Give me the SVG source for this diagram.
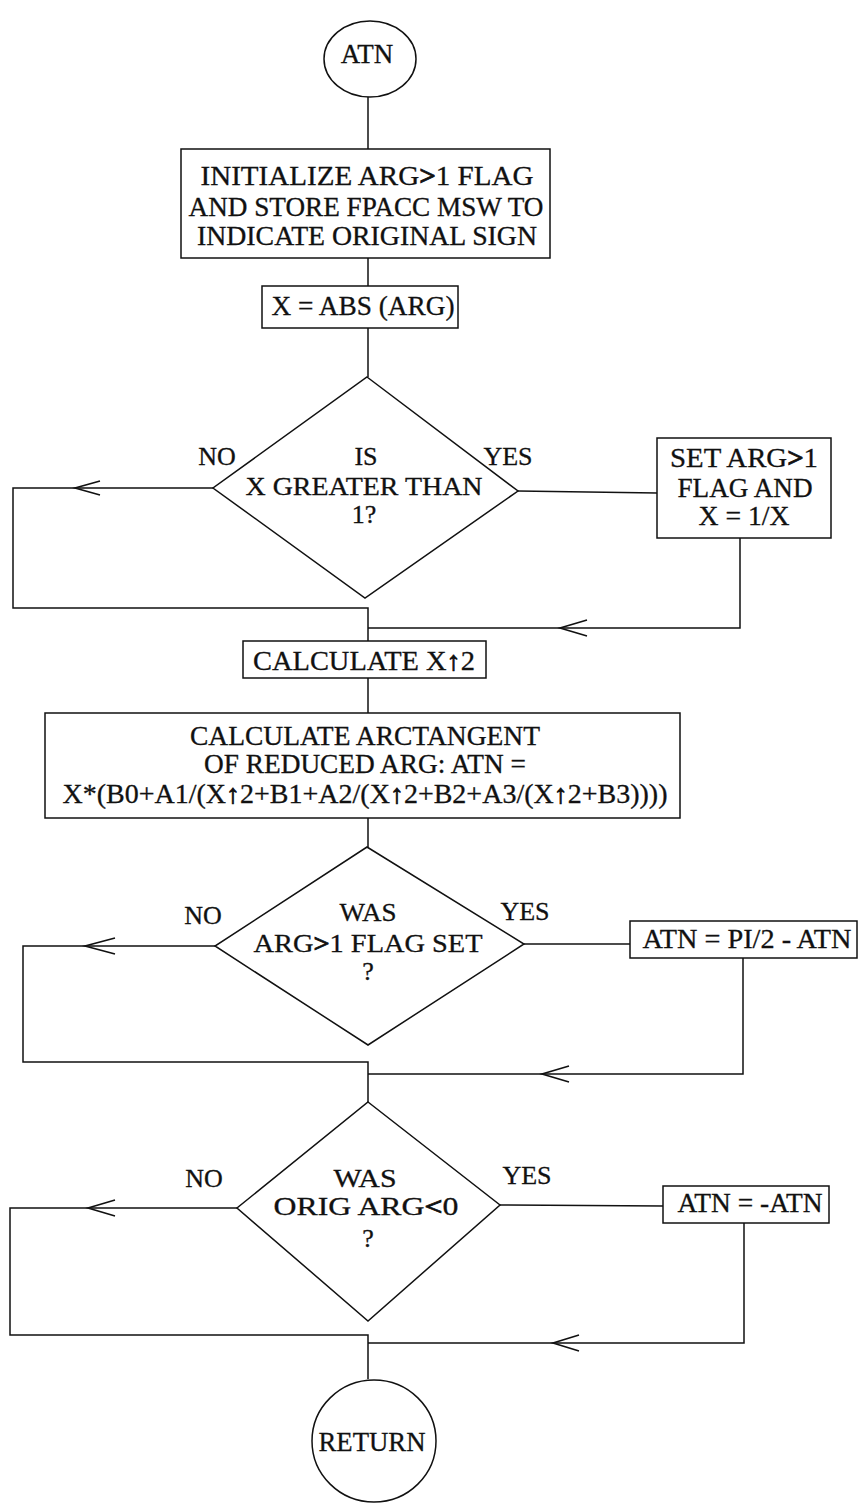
<svg xmlns="http://www.w3.org/2000/svg" width="858" height="1504" viewBox="0 0 858 1504">
<style>
  .shape { fill: #fff; stroke: #111; stroke-width: 1.5; }
  .line { fill: none; stroke: #111; stroke-width: 1.5; }
  .arrow { fill: none; stroke: #111; stroke-width: 1.6; }
  .t { font-family: "Liberation Serif", "DejaVu Serif", serif; font-size: 27px; text-anchor: middle; fill: #111; stroke: #111; stroke-width: 0.3; }
  .d { font-size: 26px; }
  .b { font-weight: bold; stroke-width: 0.8; }
</style>
<rect width="858" height="1504" fill="#fff"/>

<g id="connectors">
  <path class="line" d="M368,97 V149"/>
  <path class="line" d="M368,258 V286"/>
  <path class="line" d="M368,328 V377"/>
  <path class="line" d="M213,488 H13 V608 H368 V641"/>
  <path class="arrow" d="M100,481 L75,488 L100,495"/>
  <path class="line" d="M518,491 L657,493"/>
  <path class="line" d="M740,538 V628 H368"/>
  <path class="arrow" d="M587,620 L560,628 L587,636"/>
  <path class="line" d="M368,678 V713"/>
  <path class="line" d="M368,818 V847"/>
  <path class="line" d="M215,946 H23 V1062 H368 V1102"/>
  <path class="arrow" d="M115,938 L85,946 L115,954"/>
  <path class="line" d="M524,944 H630"/>
  <path class="line" d="M743,958 V1074 H368"/>
  <path class="arrow" d="M569,1066 L542,1074 L569,1082"/>
  <path class="line" d="M237,1208 H10 V1335 H368 V1379"/>
  <path class="arrow" d="M115,1200 L88,1208 L115,1216"/>
  <path class="line" d="M500,1205 L663,1206"/>
  <path class="line" d="M744,1223 V1343 H368"/>
  <path class="arrow" d="M579,1335 L553,1343 L579,1351"/>
</g>

<g id="start">
  <ellipse class="shape" cx="370" cy="59" rx="46" ry="38"/>
  <text class="t" x="367" y="63">ATN</text>
</g>

<g id="init">
  <rect class="shape" x="181" y="149" width="369" height="109"/>
  <text class="t" x="367" y="185" textLength="333" lengthAdjust="spacingAndGlyphs">INITIALIZE ARG<tspan class="b">&gt;</tspan>1 FLAG</text>
  <text class="t" x="366" y="216" textLength="355" lengthAdjust="spacingAndGlyphs">AND STORE FPACC MSW TO</text>
  <text class="t" x="367" y="245" textLength="340" lengthAdjust="spacingAndGlyphs">INDICATE ORIGINAL SIGN</text>
</g>

<g id="abs">
  <rect class="shape" x="262" y="286" width="196" height="42"/>
  <text class="t" x="363" y="315" textLength="183" lengthAdjust="spacingAndGlyphs">X = ABS (ARG)</text>
</g>

<g id="decision1">
  <polygon class="shape" points="367,377 518,491 365,598 213,488"/>
  <text class="t d" x="366" y="465">IS</text>
  <text class="t d" x="364" y="495" textLength="237" lengthAdjust="spacingAndGlyphs">X GREATER THAN</text>
  <text class="t d" x="364" y="523">1?</text>
  <text class="t d" x="217" y="465">NO</text>
  <text class="t d" x="508" y="465">YES</text>
</g>

<g id="setflag">
  <rect class="shape" x="657" y="438" width="174" height="100"/>
  <text class="t" x="744" y="467" textLength="148" lengthAdjust="spacingAndGlyphs">SET ARG<tspan class="b">&gt;</tspan>1</text>
  <text class="t" x="745" y="497" textLength="135" lengthAdjust="spacingAndGlyphs">FLAG AND</text>
  <text class="t" x="744" y="525" textLength="91" lengthAdjust="spacingAndGlyphs">X = 1/X</text>
</g>

<g id="square">
  <rect class="shape" x="243" y="641" width="243" height="37"/>
  <text class="t" x="364" y="670" textLength="222" lengthAdjust="spacingAndGlyphs">CALCULATE X<tspan class="b">↑</tspan>2</text>
</g>

<g id="arctan">
  <rect class="shape" x="45" y="713" width="635" height="105"/>
  <text class="t" x="365" y="745" textLength="350" lengthAdjust="spacingAndGlyphs">CALCULATE ARCTANGENT</text>
  <text class="t" x="365" y="773" textLength="322" lengthAdjust="spacingAndGlyphs">OF REDUCED ARG:  ATN =</text>
  <text class="t" x="365" y="803" textLength="605" lengthAdjust="spacingAndGlyphs">X*(B0+A1/(X<tspan class="b">↑</tspan>2+B1+A2/(X<tspan class="b">↑</tspan>2+B2+A3/(X<tspan class="b">↑</tspan>2+B3))))</text>
</g>

<g id="decision2">
  <polygon class="shape" points="367,847 524,944 368,1045 215,946"/>
  <text class="t d" x="368" y="921" textLength="57" lengthAdjust="spacingAndGlyphs">WAS</text>
  <text class="t d" x="368" y="952" textLength="229" lengthAdjust="spacingAndGlyphs">ARG<tspan class="b">&gt;</tspan>1 FLAG SET</text>
  <text class="t d" x="368" y="980">?</text>
  <text class="t d" x="203" y="924">NO</text>
  <text class="t d" x="525" y="920">YES</text>
</g>

<g id="complement">
  <rect class="shape" x="630" y="921" width="227" height="37"/>
  <text class="t" x="747" y="948" textLength="209" lengthAdjust="spacingAndGlyphs">ATN = PI/2 - ATN</text>
</g>

<g id="decision3">
  <polygon class="shape" points="368,1102 500,1205 368,1321 237,1208"/>
  <text class="t d" x="365" y="1187" textLength="63" lengthAdjust="spacingAndGlyphs">WAS</text>
  <text class="t d" x="366" y="1215" textLength="185" lengthAdjust="spacingAndGlyphs">ORIG ARG<tspan class="b">&lt;</tspan>0</text>
  <text class="t d" x="368" y="1247">?</text>
  <text class="t d" x="204" y="1187">NO</text>
  <text class="t d" x="527" y="1184">YES</text>
</g>

<g id="negate">
  <rect class="shape" x="663" y="1186" width="166" height="37"/>
  <text class="t" x="750" y="1212" textLength="145" lengthAdjust="spacingAndGlyphs">ATN = -ATN</text>
</g>

<g id="return">
  <ellipse class="shape" cx="374" cy="1441" rx="62" ry="61"/>
  <text class="t" x="372" y="1451" textLength="107" lengthAdjust="spacingAndGlyphs">RETURN</text>
</g>
</svg>
